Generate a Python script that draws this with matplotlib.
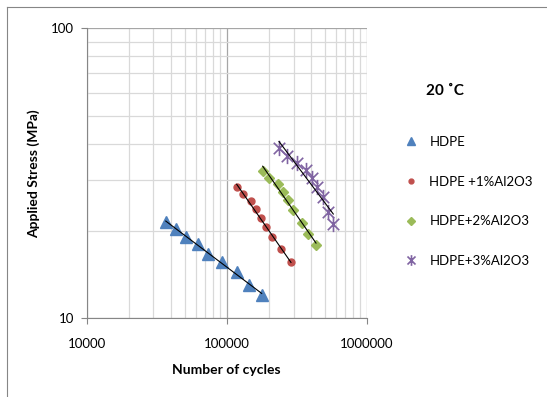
import numpy as np
import matplotlib
matplotlib.use('Agg')
import matplotlib.pyplot as plt
from matplotlib.path import Path
from matplotlib.lines import Line2D
from matplotlib.ticker import FixedLocator, LogLocator, NullFormatter

plt.rcParams['font.family'] = ['Lato', 'DejaVu Sans']

# Data (cycles, stress in MPa)
hdpe_n = [36700, 43500, 51000, 62400, 73900, 92100, 119000, 145000, 177800]
hdpe_s = [21.4, 20.4, 19.1, 18.0, 16.7, 15.7, 14.4, 13.0, 12.0]

al1_n = [117900, 130100, 148400, 161900, 175800, 190800, 209600, 243000, 287800]
al1_s = [28.4, 26.8, 25.4, 23.8, 22.1, 20.6, 19.1, 17.3, 15.7]

al2_n = [180800, 201500, 233700, 253600, 275500, 296000, 343300, 382800, 434400]
al2_s = [32.3, 30.4, 29.0, 27.3, 25.6, 23.6, 21.3, 19.6, 17.9]

al3_n = [236400, 270800, 316200, 368500, 408600, 443500, 484900, 526500, 577200]
al3_s = [38.6, 36.3, 34.2, 32.5, 30.4, 28.3, 26.3, 23.3, 21.1]

labels = ['HDPE', 'HDPE +1%Al2O3', 'HDPE+2%Al2O3', 'HDPE+3%Al2O3']

# Excel style asterisk: X plus a vertical bar
star = Path([(0, -1), (0, 1), (-0.75, -0.75), (0.75, 0.75), (-0.75, 0.75), (0.75, -0.75)],
            [Path.MOVETO, Path.LINETO, Path.MOVETO, Path.LINETO, Path.MOVETO, Path.LINETO])

series = [
    (hdpe_n, hdpe_s, '^', '#4F81BD', 8),
    (al1_n, al1_s, 'o', '#C0504D', 5),
    (al2_n, al2_s, 'D', '#9BBB59', 5.5),
    (al3_n, al3_s, star, '#8064A2', 11),
]

fig = plt.figure(figsize=(5.47, 3.97), dpi=100)
ax = fig.add_axes([0.1585, 0.1982, 0.5119, 0.7305])

handles = []
for (n, s, mk, col, ms), lab in zip(series, labels):
    if mk is star:
        h, = ax.plot(n, s, linestyle='none', marker=mk, markersize=ms,
                     markeredgecolor=col, markerfacecolor='none', markeredgewidth=1.2,
                     label=lab, zorder=3)
    else:
        h, = ax.plot(n, s, linestyle='none', marker=mk, markersize=ms,
                     color=col, markeredgecolor=col, label=lab, zorder=3)
    handles.append(h)
    # power-law trendline
    k, c = np.polyfit(np.log10(n), np.log10(s), 1)
    xx = np.array([min(n), max(n)])
    ax.plot(xx, 10 ** (c + k * np.log10(xx)), color='black', lw=0.8, zorder=4)

ax.set_xscale('log')
ax.set_yscale('log')
ax.set_xlim(1e4, 1e6)
ax.set_ylim(10, 100)

ax.xaxis.set_major_locator(FixedLocator([1e4, 1e5, 1e6]))
ax.yaxis.set_major_locator(FixedLocator([10, 100]))
ax.set_xticklabels(['10000', '100000', '1000000'])
ax.set_yticklabels(['10', '100'])
ax.xaxis.set_minor_locator(LogLocator(base=10, subs=np.arange(2, 10)))
ax.yaxis.set_minor_locator(LogLocator(base=10, subs=np.arange(2, 10)))
ax.xaxis.set_minor_formatter(NullFormatter())
ax.yaxis.set_minor_formatter(NullFormatter())

ax.grid(which='major', color='#a6a6a6', lw=0.9)
ax.grid(which='minor', color='#d9d9d9', lw=0.9)
ax.set_axisbelow(True)

for side in ['top', 'right']:
    ax.spines[side].set_visible(False)
for side in ['left', 'bottom']:
    ax.spines[side].set_color('#868686')
ax.tick_params(which='major', length=4, color='#868686', labelsize=9.5)
ax.tick_params(axis='x', which='major', pad=10)
ax.tick_params(axis='y', which='major', pad=5)
ax.tick_params(which='minor', length=0)

ax.set_xlabel('Number of cycles', fontsize=10, fontweight='bold', labelpad=10)
ax.set_ylabel('Applied Stress (MPa)', fontsize=10, fontweight='bold', labelpad=8)

fig.text(445 / 547, 1 - 91 / 397, '20 \u02daC', fontsize=11, fontweight='bold',
         ha='center', va='center')

fig.legend(handles=handles, loc='upper left', bbox_to_anchor=(391 / 547, 1 - 124 / 397),
           frameon=False, fontsize=9.5, labelspacing=2.1, handlelength=1.2,
           handletextpad=0.8, markerscale=0.7)

# chart area border
fig.add_artist(Line2D([7 / 547, 7 / 547], [0, 1 - 7 / 397], color='#868686', lw=0.8))
fig.add_artist(Line2D([7 / 547, 1], [1 - 7 / 397, 1 - 7 / 397], color='#868686', lw=0.8))

fig.savefig('out.png', dpi=100)
